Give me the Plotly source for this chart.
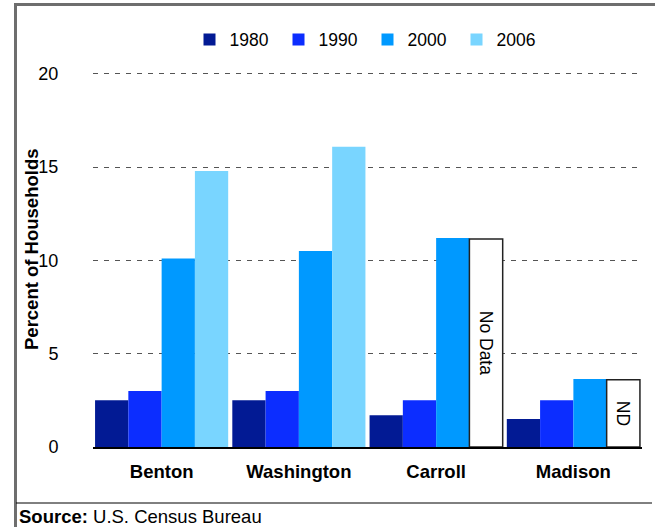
import plotly.graph_objects as go

counties = ["Benton", "Washington", "Carroll", "Madison"]
years = ["1980", "1990", "2000", "2006"]
v1980 = [2.5, 2.5, 1.7, 1.5]
v1990 = [3.0, 3.0, 2.5, 2.5]
v2000 = [10.1, 10.5, 11.2, 3.65]
v2006 = [14.8, 16.1, None, None]
# placeholder heights for the "no data" boxes drawn in the 2006 slot
nd_height = [None, None, 11.15, 3.6]
nd_label = ["", "", "No Data", "ND"]
y_ticks = [0, 5, 10, 15, 20]

colors = ["#021a94", "#0c2dff", "#0099ff", "#79d5ff"]
FONT = "Liberation Sans, Arial, Helvetica, sans-serif"

fig = go.Figure()
for yr, vals, c in zip(years[:3], [v1980, v1990, v2000], colors[:3]):
    fig.add_trace(go.Bar(x=counties, y=vals, name=yr, marker=dict(color=c, line=dict(width=0))))

y06 = [v if v is not None else n for v, n in zip(v2006, nd_height)]
fill06 = [colors[3] if v is not None else "white" for v in v2006]
lc06 = [colors[3] if v is not None else "#222222" for v in v2006]
lw06 = [0 if v is not None else 1.5 for v in v2006]
fig.add_trace(go.Bar(
    x=counties, y=y06, name=years[3],
    marker=dict(color=fill06, line=dict(color=lc06, width=lw06)),
    text=nd_label, textposition="inside", insidetextanchor="middle",
    textangle=90, constraintext="none",
    textfont=dict(size=17.5, color="black", family=FONT),
))

YMAX = 20.1
L, R, T, B = 93, 13, 72, 80
W = 655 - L - R
H = 527 - T - B

def px(x):
    return (x - L) / W

def py(y):
    return (527 - B - y) / H

fig.update_layout(
    width=655, height=527,
    margin=dict(l=L, r=R, t=T, b=B, pad=0),
    paper_bgcolor="white", plot_bgcolor="white",
    barmode="group", bargap=0.03, bargroupgap=0,
    font=dict(family=FONT, size=17.5, color="black"),
    showlegend=True,
    legend=dict(orientation="h", x=0.5, xanchor="center", y=py(39.5), yanchor="middle",
                font=dict(size=17.5), bgcolor="rgba(0,0,0,0)", traceorder="normal",
                entrywidth=44, entrywidthmode="pixels"),
    xaxis=dict(showline=True, linecolor="black", linewidth=2, showgrid=False,
               ticks="outside", ticklen=7, tickcolor="rgba(0,0,0,0)",
               tickfont=dict(size=18.5), tickvals=counties,
               ticktext=["<b>%s</b>" % c for c in counties]),
    yaxis=dict(range=[0, YMAX], tickvals=y_ticks, showgrid=True, gridcolor="#555555",
               griddash="5px,6px", gridwidth=1, zeroline=False, showline=False,
               ticks="outside", ticklen=30, tickcolor="rgba(0,0,0,0)",
               tickfont=dict(size=18)),
    shapes=[
        dict(type="line", xref="paper", yref="paper", x0=px(14), x1=px(655), y0=py(4.5), y1=py(4.5),
             line=dict(color="#6e6e6e", width=3)),
        dict(type="line", xref="paper", yref="paper", x0=px(15.5), x1=px(15.5), y0=py(3), y1=py(527),
             line=dict(color="#6e6e6e", width=3)),
        dict(type="line", xref="paper", yref="paper", x0=px(16), x1=px(652), y0=py(503), y1=py(503),
             line=dict(color="black", width=1)),
    ],
    annotations=[
        dict(text="<b>Percent of Households</b>", textangle=-90, x=px(31), y=py(250),
             xref="paper", yref="paper", xanchor="center", yanchor="middle", showarrow=False,
             font=dict(size=18.5)),
        dict(text="<b>Source:</b> U.S. Census Bureau", x=px(17), y=py(516),
             xref="paper", yref="paper", xanchor="left", yanchor="middle", showarrow=False,
             font=dict(size=18.5)),
    ],
)

fig.write_html("out.html", config={"displayModeBar": False},
               post_script="document.body.style.margin='0';document.body.style.overflow='hidden';")
